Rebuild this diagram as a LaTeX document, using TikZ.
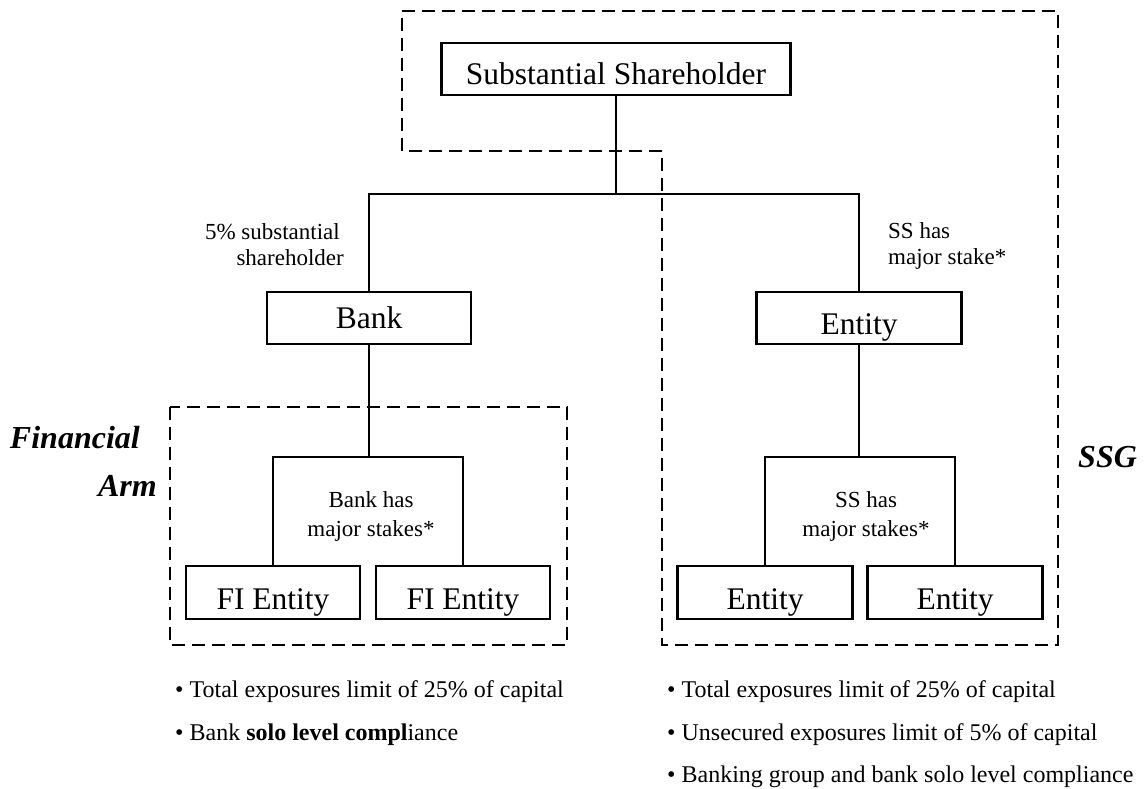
\documentclass[tikz,border=0pt]{standalone}
\usepackage{fontspec}
\setmainfont{Liberation Serif}
\begin{document}
\begin{tikzpicture}[x=1pt,y=-1pt,
  box/.style={draw,line width=2.2pt,minimum height=52pt,inner sep=0pt,text height=32pt,text depth=0pt,font=\fontsize{31.5}{36}\selectfont},
  conn/.style={line width=2.2pt},
  grp/.style={line width=2.8pt,dash pattern=on 13pt off 7pt},
  lbl/.style={font=\fontsize{23}{26}\selectfont,inner sep=0pt},
  lbltwo/.style={font=\fontsize{23}{29}\selectfont,inner sep=0pt},
  grpname/.style={font=\fontsize{32}{48}\selectfont\bfseries\itshape,inner sep=0pt},
  bul/.style={font=\fontsize{24}{26}\selectfont,inner sep=0pt,anchor=base west}]
\useasboundingbox (0,0) rectangle (1146,789);

% boxes
\node[box,minimum width=349pt] (ss) at (616,69) {Substantial Shareholder};
\node[box,minimum width=204pt,text height=20pt] (bank) at (369,318) {Bank};
\node[box,minimum width=205pt] (entity) at (859,318) {Entity};
\node[box,minimum width=174pt,minimum height=53pt,text height=34pt] (fi1) at (273,592.5) {FI Entity};
\node[box,minimum width=174pt,minimum height=53pt,text height=34pt] (fi2) at (463,592.5) {FI Entity};
\node[box,minimum width=175pt,minimum height=53pt,text height=33pt] (e1) at (765,592.5) {Entity};
\node[box,minimum width=175pt,minimum height=53pt,text height=33pt] (e2) at (955,592.5) {Entity};

% connectors
\coordinate (j1) at (616,194);
\coordinate (j2) at (369,457);
\coordinate (j3) at (859,457);
\draw[conn] (ss.south) -- (j1);
\draw[conn] (bank.north) |- (j1) -| (entity.north);
\draw[conn] (bank.south) -- (j2);
\draw[conn] (fi1.north) |- (j2) -| (fi2.north);
\draw[conn] (entity.south) -- (j3);
\draw[conn] (e1.north) |- (j3) -| (e2.north);

% group outlines
\draw[grp] (402,11) -- (1058,11) -- (1058,645) -- (662,645) -- (662,151) -- (402,151) -- cycle;
\draw[grp] (170,407) rectangle (567,645);

% labels
\node[lbl,align=right,anchor=north east] (l1) at (344,223) {5\% substantial\hbox to 4pt{}\\shareholder};
\node[lbl,align=left,anchor=north west] (l2) at (888,222) {SS has\\major stake*};
\node[lbltwo,align=center,anchor=north] (l3) at (371,491) {Bank has\\major stakes*};
\node[lbltwo,align=center,anchor=north] (l4) at (866,491) {SS has\\major stakes*};

\node[grpname,align=right,anchor=north east] (fa) at (157,426) {Financial\hbox to 17pt{}\\Arm};
\node[grpname,anchor=base west] (ssg) at (1078,467) {SSG};

% bullet notes
\node[bul] (b1) at (175,697) {\textbullet\ Total exposures limit of 25\% of capital};
\node[bul] (b2) at (175,740) {\textbullet\ Bank \textbf{solo level compl}iance};
\node[bul] (b3) at (667,697) {\textbullet\ Total exposures limit of 25\% of capital};
\node[bul] (b4) at (667,740) {\textbullet\ Unsecured exposures limit of 5\% of capital};
\node[bul] (b5) at (667,782) {\textbullet\ Banking group and bank solo level compliance};
\end{tikzpicture}
\end{document}
